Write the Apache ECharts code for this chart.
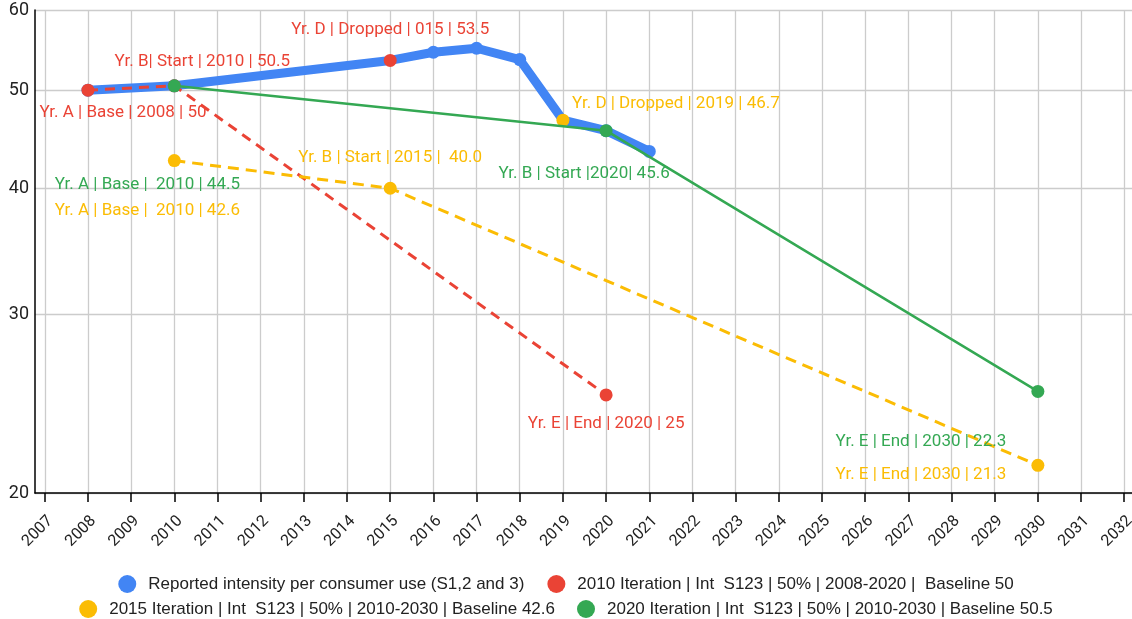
<!DOCTYPE html>
<html>
<head>
<meta charset="utf-8">
<script src="https://cdn.jsdelivr.net/npm/echarts@6/dist/echarts.min.js"></script>
<style>
	html, body { margin: 0; padding: 0; background: #fff; }
	#main { width: 1132px; height: 619px; }
</style>
</head>
<body>
<div id="main"></div>
<script>
//tick labels
var years = [2007, 2008, 2009, 2010, 2011, 2012, 2013, 2014, 2015, 2016, 2017, 2018, 2019,
	2020, 2021, 2022, 2023, 2024, 2025, 2026, 2027, 2028, 2029, 2030, 2031, 2032];
var yTicks = [20, 30, 40, 50, 60];

//series names
var seriesNames = [
	'Reported intensity per consumer use (S1,2 and 3)',
	'2010 Iteration | Int  S123 | 50% | 2008-2020 |  Baseline 50',
	'2015 Iteration | Int  S123 | 50% | 2010-2030 | Baseline 42.6',
	'2020 Iteration | Int  S123 | 50% | 2010-2030 | Baseline 50.5'
];

//reported
var reportedYears = [2008, 2010, 2015, 2016, 2017, 2018, 2019, 2020, 2021];
var reportedValues = [50, 50.5, 53.5, 54.5, 55, 53.6, 46.7, 45.6, 43.5];
var reportedLabels = ['', '', 'Yr. D | Dropped | 015 | 53.5', '', '', '', 'Yr. D | Dropped | 2019 | 46.7', '', ''];

//2010 iteration
var iter2010Years = [2008, 2010, 2020];
var iter2010Values = [50, 50.5, 25];
var iter2010Labels = ['Yr. A | Base | 2008 | 50', 'Yr. B| Start | 2010 | 50.5', 'Yr. E | End | 2020 | 25'];

//2015 iteration
var iter2015Years = [2010, 2015, 2030];
var iter2015Values = [42.6, 40, 21.3];
var iter2015Labels = ['Yr. A | Base |  2010 | 42.6', 'Yr. B | Start | 2015 |  40.0', 'Yr. E | End | 2030 | 21.3'];

//2020 iteration
var iter2020Years = [2010, 2020, 2030];
var iter2020Values = [50.5, 45.6, 25.2];
var iter2020Labels = ['Yr. A | Base |  2010 | 44.5', 'Yr. B | Start |2020| 45.6', 'Yr. E | End | 2030 | 22.3'];

var BLUE = '#4285F4', RED = '#EA4335', YELLOW = '#FBBC04', GREEN = '#34A853';
var FONT = 'Roboto';
var LEGEND_FONT = '"Liberation Sans", Arial, sans-serif';

//label offsets (px, from the point) and per-point colours
var reportedStyle = [null, null, {color: RED, offset: [0, -31]}, null, null, null, {color: YELLOW, offset: [113, -16]}, null, null];
var iter2010Offsets = [[35, 23], [28, -24], [0, 29]];
var iter2015Offsets = [[-27, 50], [0, -31], [-117, 9]];
var iter2020Offsets = [[-27, 99], [-22, 43], [-117, 50]];

function labelOf(text, offset, color) {
	return {
		show: true,
		position: 'inside',
		offset: offset,
		formatter: text,
		color: color,
		fontFamily: FONT,
		fontSize: 17
	};
}

function buildData(xs, ys, texts, offsets, color) {
	var data = [];
	for(var i = 0; i < xs.length; i++) {
		var item = {value: [xs[i], ys[i]]};
		if(texts[i]) {
			item.label = labelOf(texts[i], offsets[i], color);
		}
		data.push(item);
	}
	return data;
}

var reportedData = [];
for(var i = 0; i < reportedYears.length; i++) {
	var item = {value: [reportedYears[i], reportedValues[i]]};
	var st = reportedStyle[i];
	if(st) {
		//points re-coloured like in the sheet
		item.itemStyle = {color: st.color};
		item.symbolSize = 13;
		item.label = labelOf(reportedLabels[i], st.offset, st.color);
	}
	reportedData.push(item);
}

var myChart = echarts.init(document.getElementById('main'), null, {renderer: 'canvas'});

var legendText = {fontFamily: LEGEND_FONT, fontSize: 17, color: '#222', padding: [0, 0, 0, 7]};

var option = {
	backgroundColor: '#fff',
	animation: false,
	grid: {
		left: 35,
		right: 0,
		top: 10,
		bottom: 126,
		containLabel: false,
		outerBoundsMode: 'none'
	},
	legend: [{
		data: [seriesNames[0], seriesNames[1]],
		left: 'center',
		top: 570,
		icon: 'circle',
		itemWidth: 18,
		itemHeight: 18,
		itemGap: 23,
		textStyle: legendText
	}, {
		data: [seriesNames[2], seriesNames[3]],
		left: 'center',
		top: 595,
		icon: 'circle',
		itemWidth: 18,
		itemHeight: 18,
		itemGap: 22,
		textStyle: legendText
	}],
	xAxis: {
		type: 'value',
		min: 2006.773,
		max: 2032.18,
		axisLine: {show: true, lineStyle: {color: '#000', width: 1.5}},
		axisTick: {show: true, customValues: years, length: 9, lineStyle: {color: '#000', width: 1.5}},
		axisLabel: {
			customValues: years,
			rotate: 45,
			margin: 20,
			align: 'right',
			verticalAlign: 'top',
			fontFamily: FONT,
			fontSize: 16,
			color: '#222',
			formatter: function(v) { return String(Math.round(v)); }
		},
		splitLine: {show: true, lineStyle: {color: '#cccccc', width: 1.3}}
	},
	yAxis: {
		type: 'log',
		logBase: 10,
		min: 20,
		max: 60,
		axisLine: {show: true, lineStyle: {color: '#000', width: 1.5}},
		axisTick: {show: false, customValues: yTicks},
		axisLabel: {
			customValues: yTicks,
			margin: 6,
			fontFamily: FONT,
			fontSize: 18,
			color: '#222',
			formatter: function(v) { return String(Math.round(v)); }
		},
		splitLine: {show: true, lineStyle: {color: '#cccccc', width: 1.3}}
	},
	series: [{
		name: seriesNames[0],
		type: 'line',
		color: BLUE,
		symbol: 'circle',
		symbolSize: 13,
		showAllSymbol: true,
		lineStyle: {width: 9, color: BLUE, cap: 'round', join: 'round'},
		itemStyle: {color: BLUE},
		data: reportedData,
		z: 2
	}, {
		name: seriesNames[1],
		type: 'line',
		color: RED,
		symbol: 'circle',
		symbolSize: 13,
		lineStyle: {width: 3, color: RED, type: [10, 7]},
		itemStyle: {color: RED},
		data: buildData(iter2010Years, iter2010Values, iter2010Labels, iter2010Offsets, RED),
		z: 3
	}, {
		name: seriesNames[2],
		type: 'line',
		color: YELLOW,
		symbol: 'circle',
		symbolSize: 13,
		lineStyle: {width: 3, color: YELLOW, type: [11, 7]},
		itemStyle: {color: YELLOW},
		data: buildData(iter2015Years, iter2015Values, iter2015Labels, iter2015Offsets, YELLOW),
		z: 3
	}, {
		name: seriesNames[3],
		type: 'line',
		color: GREEN,
		symbol: 'circle',
		symbolSize: 13,
		lineStyle: {width: 2.5, color: GREEN},
		itemStyle: {color: GREEN},
		data: buildData(iter2020Years, iter2020Values, iter2020Labels, iter2020Offsets, GREEN),
		z: 4
	}]
};
myChart.setOption(option);
</script>
</body>
</html>
